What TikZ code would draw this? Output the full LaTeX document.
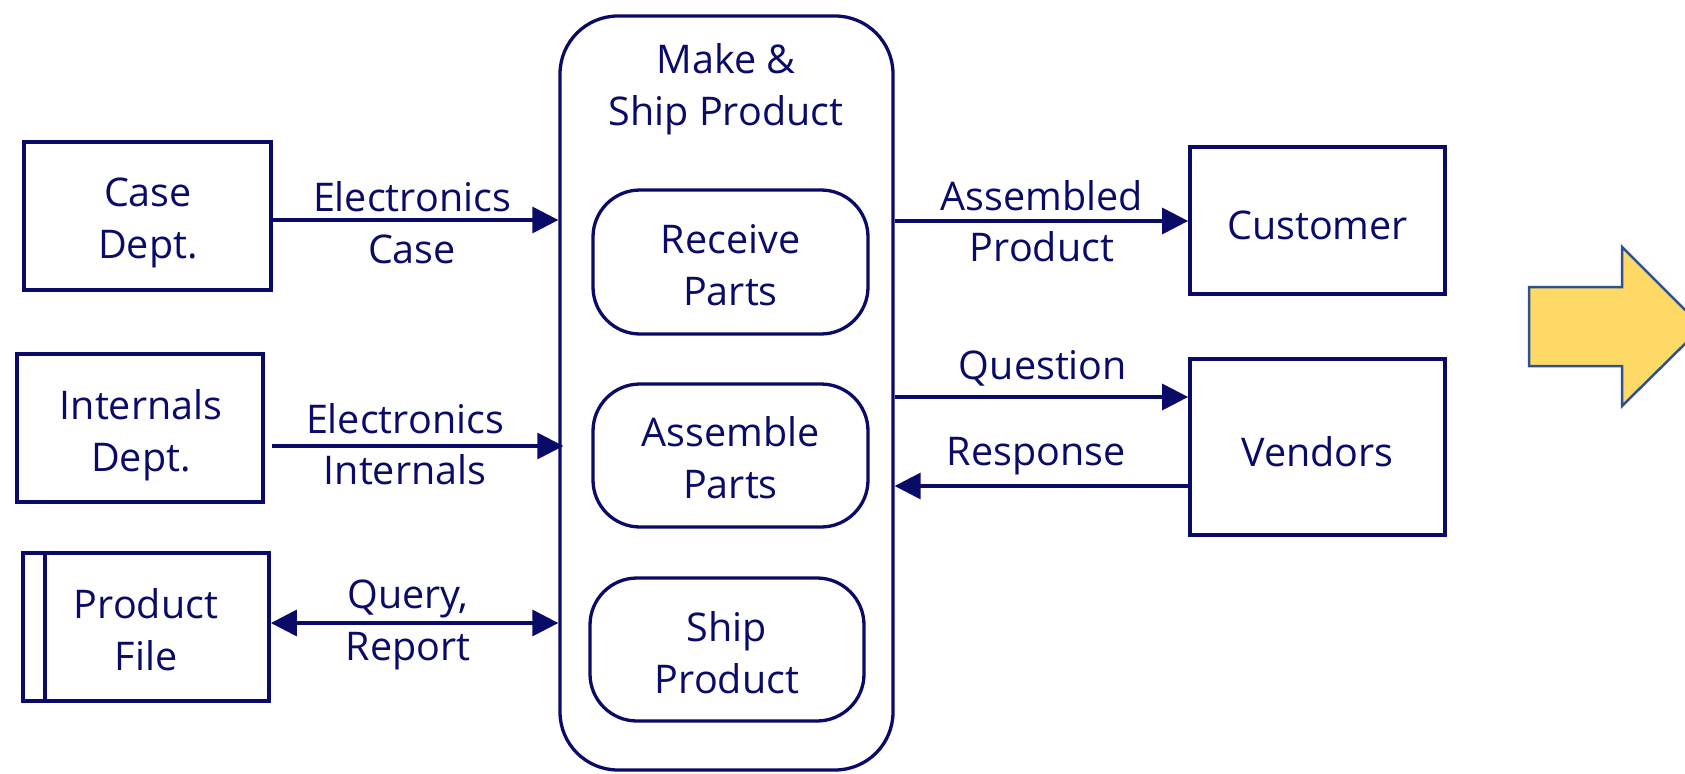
\documentclass[tikz,border=0pt]{standalone}
\usepackage{fontspec}
\setmainfont{Open Sans}
\usetikzlibrary{arrows.meta}
\definecolor{navy}{RGB}{10,10,105}
\definecolor{gold}{RGB}{255,217,102}
\definecolor{goldline}{RGB}{47,82,143}
\begin{document}
\begin{tikzpicture}[x=1pt,y=-1pt,
  every node/.style={inner sep=0pt},
  txt/.style={font=\fontsize{39.5}{51.5}\selectfont, text=navy, align=center},
  ext/.style={draw=navy, line width=3.8pt, rectangle},
  proc/.style={draw=navy, line width=3.3pt, rectangle, rounded corners=47pt},
  flow/.style={draw=navy, line width=3.3pt, -{Triangle[length=26pt,width=26pt]}},
  flow2/.style={draw=navy, line width=3.3pt, {Triangle[length=26pt,width=26pt]}-{Triangle[length=26pt,width=26pt]}}]
\useasboundingbox (0,0) rectangle (1685,773);
\clip (0,0) rectangle (1685,773);
% external entities
\node[ext, minimum width=247pt, minimum height=148pt] (case) at (147.5,216) {};
\node[txt] (casetxt) at (148,222.8) {Case\\Dept.};
\node[ext, minimum width=246pt, minimum height=148pt] (intl) at (140,428) {};
\node[txt] (intltxt) at (141,435) {Internals\\Dept.};
\node[ext, minimum width=246pt, minimum height=148pt] (pf) at (146,627) {};
\node[txt] (pftxt) at (146,629.5) {Product\\File};
\draw[navy, line width=3.5pt] ([xshift=24pt]pf.north west) -- ([xshift=24pt]pf.south west);
\node[ext, minimum width=255pt, minimum height=147pt] (cust) at (1317.5,220.5) {};
\node[txt] (custtxt) at (1317.5,225) {Customer};
\node[ext, minimum width=255pt, minimum height=176pt] (vend) at (1317.5,447) {};
\node[txt] (vendtxt) at (1317.5,451.5) {Vendors};
% main process
\node[draw=navy, line width=3.3pt, rectangle, rounded corners=58pt, minimum width=333pt, minimum height=754pt] (big) at (726.5,393) {};
\node[txt] (title) at (726,89) {Make \&\\Ship Product};
\node[proc, minimum width=275pt, minimum height=144pt] (recv) at (730.5,262) {};
\node[txt] (recvtxt) at (730.5,265) {Receive\\Parts};
\node[proc, minimum width=275pt, minimum height=143pt] (asm) at (730.5,455.5) {};
\node[txt] (asmtxt) at (730.5,457.5) {Assemble\\Parts};
\node[proc, minimum width=274pt, minimum height=143pt] (ship) at (727,649.5) {};
\node[txt] (shiptxt) at (727,652.5) {Ship\\Product};
% flows
\draw[flow] (case.east |- 0,220) -- (big.west |- 0,220);
\node[txt] (l1) at (412,222.5) {Electronics\\Case};
\draw[flow] ([xshift=7pt]intl.east |- 0,446) -- ([xshift=5pt]big.west |- 0,446);
\node[txt] (l2) at (405,444) {Electronics\\Internals};
\draw[flow2] (pf.east |- 0,623) -- (big.west |- 0,623);
\node[txt] (l3) at (408,625) {Query,\\Report};
\draw[flow] (big.east |- 0,221) -- (cust.west |- 0,221);
\node[txt] (l4) at (1042,221) {Assembled\\Product};
\draw[flow] (big.east |- 0,397) -- (vend.west |- 0,397);
\node[txt] (l5) at (1043,368) {Question};
\draw[flow] (vend.west |- 0,486) -- (big.east |- 0,486);
\node[txt] (l6) at (1036,456) {Response};
% big yellow arrow
\draw[fill=gold, draw=goldline, line width=2.5pt, line join=miter]
  (1529,287) -- (1622,287) -- (1622,247) -- (1702,327) -- (1622,406) -- (1622,366) -- (1529,366) -- cycle;
\end{tikzpicture}
\end{document}
